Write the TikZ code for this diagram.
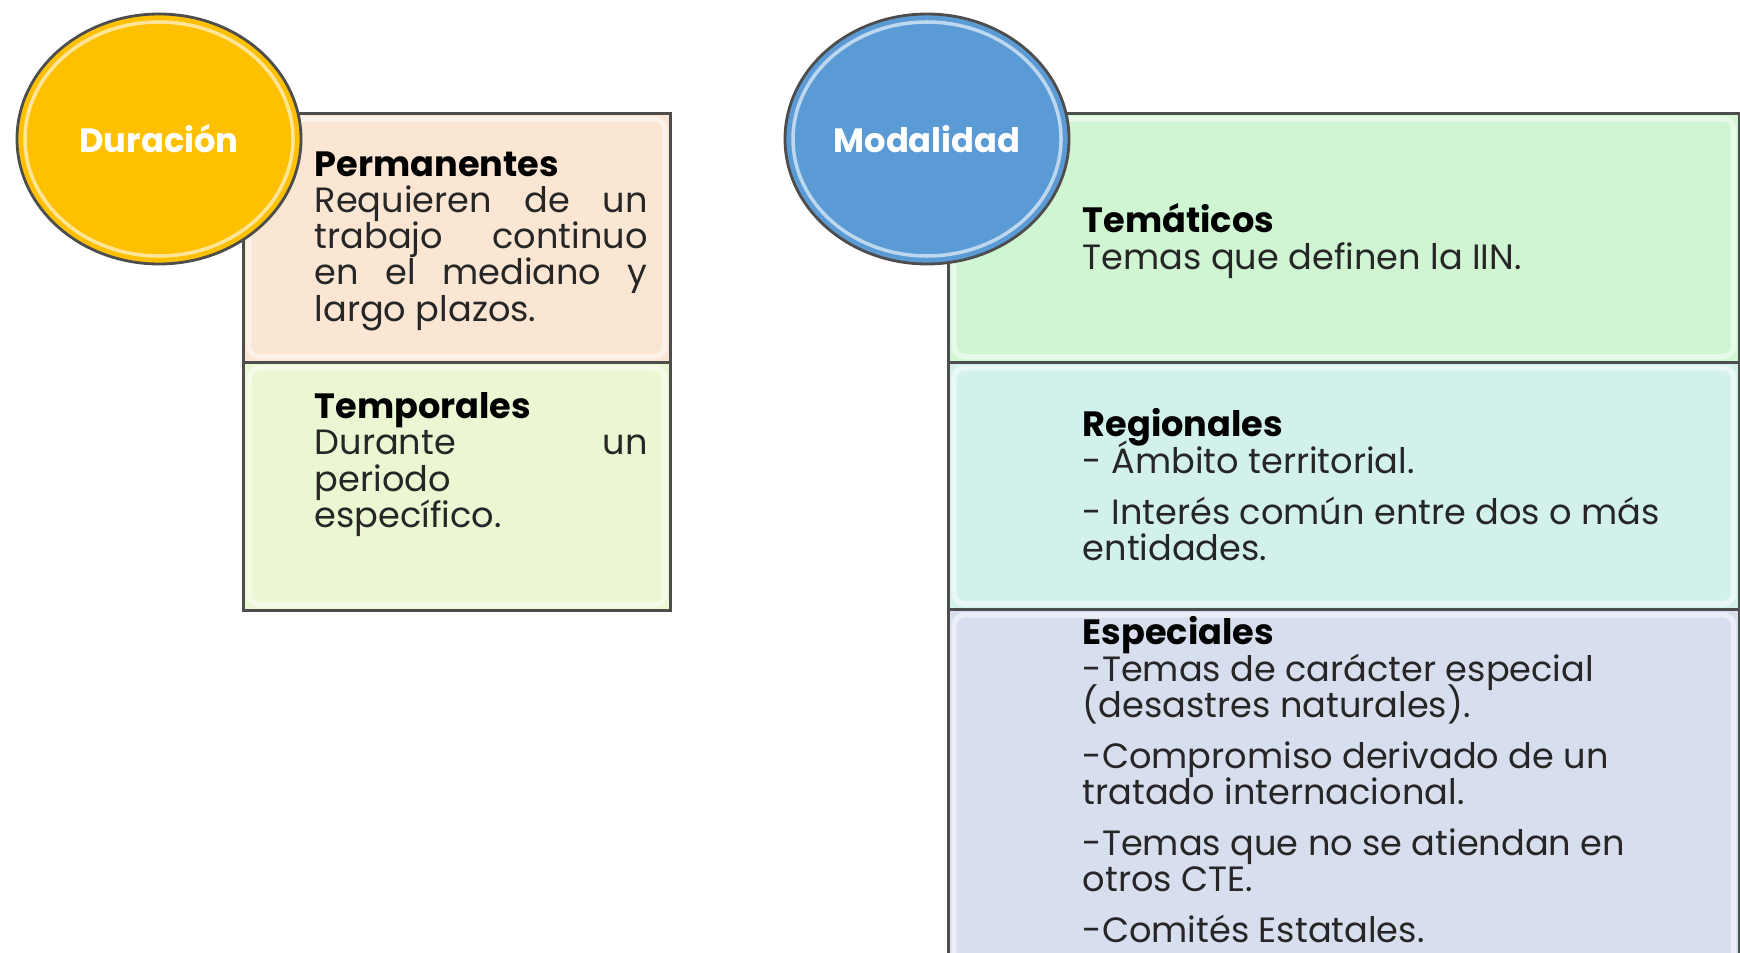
\documentclass[tikz,border=0pt]{standalone}
\usepackage{fontspec}
\setmainfont{Poppins}
\usetikzlibrary{shapes.geometric}

\definecolor{durgold}{HTML}{FFC000}
\definecolor{modblue}{HTML}{5B9BD5}
\definecolor{peach}{HTML}{FBE5D3}
\definecolor{lime}{HTML}{EBF7D3}
\definecolor{mint}{HTML}{D0F5D3}
\definecolor{aqua}{HTML}{D3F1EC}
\definecolor{lav}{HTML}{D7DEEE}
\definecolor{boxgray}{HTML}{4D4D4D}
\definecolor{txtgray}{HTML}{262626}

\newcommand{\jline}[1]{\makebox[33.3mm][s]{#1}}
\newcommand{\tightlines}{\lineskiplimit=-10pt\relax}

\begin{document}
\begin{tikzpicture}[x=0.1mm,y=-0.1mm]
		\useasboundingbox (0,0) rectangle (1740,952);
		\clip (0,0) rectangle (1740,952);
		\begin{scope}
		
		\tikzstyle{mybox}=[rectangle,
		draw=boxgray,
		line width=0.8pt,
		anchor=north west,
		inner sep=0pt
		]
		\tikzstyle{mycircle}=[ellipse,
		draw=boxgray,
		line width=0.8pt,
		text=white,
		inner sep=0pt,
		minimum width=28.4mm,
		minimum height=25mm,
		font=\fontsize{9.6}{12}\selectfont\bfseries
		]
		\tikzstyle{mytext}=[anchor=north west,
		align=left,
		inner sep=0pt,
		text=txtgray,
		font=\fontsize{10}{10.3}\selectfont\tightlines
		]
		\tikzstyle{glow}=[draw=white,
		opacity=0.5,
		line width=1.5pt,
		rounded corners=3pt
		]
		
		\coordinate (pb1) at (242, 112);
		\coordinate (pb2) at (242, 361);
		
		\coordinate (pb3) at (947, 112);
		\coordinate (pb4) at (947, 361);
		\coordinate (pb5) at (947, 608);
		
		\coordinate (pc1) at (159, 139);
		\coordinate (pc2) at (927, 139);
		
		% left column
		\node[mybox, fill=peach, minimum width=42.7mm, minimum height=24.9mm] (b1) at (pb1) {};
		\node[mybox, fill=lime, minimum width=42.7mm, minimum height=24.8mm] (b2) at (pb2) {};
		
		% right column
		\node[mybox, fill=mint, minimum width=79.1mm, minimum height=24.9mm] (b3) at (pb3) {};
		\node[mybox, fill=aqua, minimum width=79.1mm, minimum height=24.7mm] (b4) at (pb4) {};
		\node[mybox, fill=lav, minimum width=79.1mm, minimum height=40mm] (b5) at (pb5) {};
		
		\foreach \b in {b1,b2,b3,b4,b5}
		\draw[glow] ([shift={(7,7)}]\b.north west) rectangle ([shift={(-7,-7)}]\b.south east);
		
		\node[mycircle, fill=durgold] (c1) at (pc1) {Duración};
		\node[mycircle, fill=modblue] (c2) at (pc2) {Modalidad};
		\draw[white, opacity=0.6, line width=1pt] (c1.center) ellipse [x radius=13.4mm, y radius=11.7mm];
		\draw[white, opacity=0.6, line width=1pt] (c2.center) ellipse [x radius=13.4mm, y radius=11.7mm];
		
		\node[mytext] (t1) at (314, 151) {\textbf{\color{black}Permanentes}\\
			\jline{Requieren de un}\\
			\jline{trabajo continuo}\\
			\jline{en el mediano y}\\
			largo plazos.};
		\node[mytext] (t2) at (314, 392) {\textbf{\color{black}Temporales}\\
			\jline{Durante un}\\
			periodo\\
			específico.};
		
		\node[mytext] (t3) at (1082, 203) {\textbf{\color{black}Temáticos}\\
			Temas que definen la IIN.};
		\node[mytext] (t4) at (1082, 408) {\textbf{\color{black}Regionales}\\
			- Ámbito territorial.\\[4.4pt]
			- Interés común entre dos o más\\
			entidades.};
		\node[mytext] (t5) at (1082, 616) {\textbf{\color{black}Especiales}\\
			-Temas de carácter especial\\
			(desastres naturales).\\[4.2pt]
			-Compromiso derivado de un\\
			tratado internacional.\\[4.2pt]
			-Temas que no se atiendan en\\
			otros CTE.\\[4.2pt]
			-Comités Estatales.};
		
		\end{scope}
\end{tikzpicture}
\end{document}
